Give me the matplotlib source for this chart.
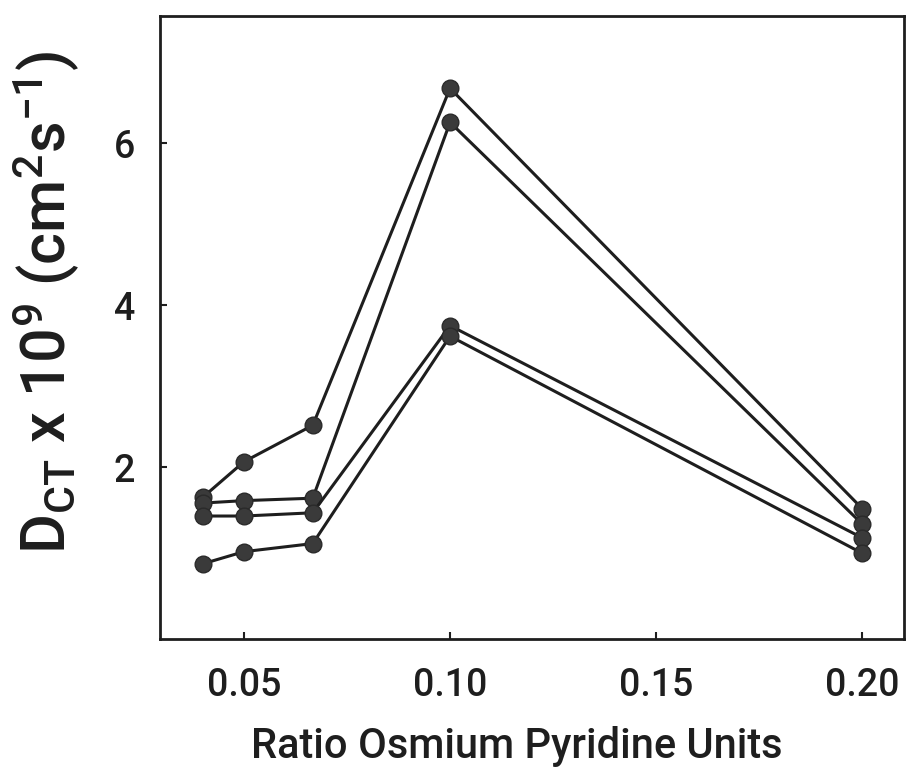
import matplotlib
matplotlib.use("Agg")
import matplotlib.pyplot as plt

plt.rcParams['font.family'] = ['Roboto', 'DejaVu Sans']
plt.rcParams['font.weight'] = 'medium'
plt.rcParams['axes.labelweight'] = 'medium'
plt.rcParams['mathtext.fontset'] = 'custom'
plt.rcParams['mathtext.rm'] = 'Roboto:medium'
plt.rcParams['mathtext.it'] = 'Roboto:medium'

# ratio of osmium to pyridine units
ratio = [0.04, 0.05, 0.0667, 0.10, 0.20]

# charge transport diffusion coefficients, x 10^9 cm2/s
d_ct_1 = [1.63, 2.07, 2.52, 6.68, 1.49]
d_ct_2 = [1.56, 1.59, 1.62, 6.26, 1.30]
d_ct_3 = [1.40, 1.40, 1.44, 3.75, 1.13]
d_ct_4 = [0.81, 0.96, 1.06, 3.62, 0.94]

fig = plt.figure(figsize=(9.08, 7.71), dpi=100)
ax = fig.add_axes([0.176, 0.171, 0.82, 0.808])

for d in [d_ct_1, d_ct_2, d_ct_3, d_ct_4]:
    ax.plot(ratio, d, '-', color='#1e1e1e', lw=2.2)
    ax.plot(ratio, d, 'o', color='#3a3a3a', ms=12, mec='#2a2a2a', mew=1)

ax.set_xlim(0.0296, 0.2102)
ax.set_ylim(-0.12, 7.57)
ax.set_xticks([0.05, 0.10, 0.15, 0.20])
ax.set_xticklabels(['0.05', '0.10', '0.15', '0.20'])
ax.set_yticks([2, 4, 6])
ax.tick_params(direction='in', length=5, width=1.5, labelsize=27, colors='#1e1e1e')
ax.tick_params(axis='x', pad=20)
ax.tick_params(axis='y', pad=18)

for s in ax.spines.values():
    s.set_linewidth(2)
    s.set_color('#1e1e1e')

ax.set_xlabel('Ratio Osmium Pyridine Units', fontsize=30, color='#1e1e1e')
ax.xaxis.set_label_coords(0.48, -0.14)
ax.set_ylabel(r'D$_{\mathrm{CT}}$ x 10$^{9}$ (cm$^{2}$s$^{-1}$)', fontsize=44, color='#1e1e1e')
ax.yaxis.set_label_coords(-0.105, 0.54)

fig.savefig('out.png', dpi=100, facecolor='white')
